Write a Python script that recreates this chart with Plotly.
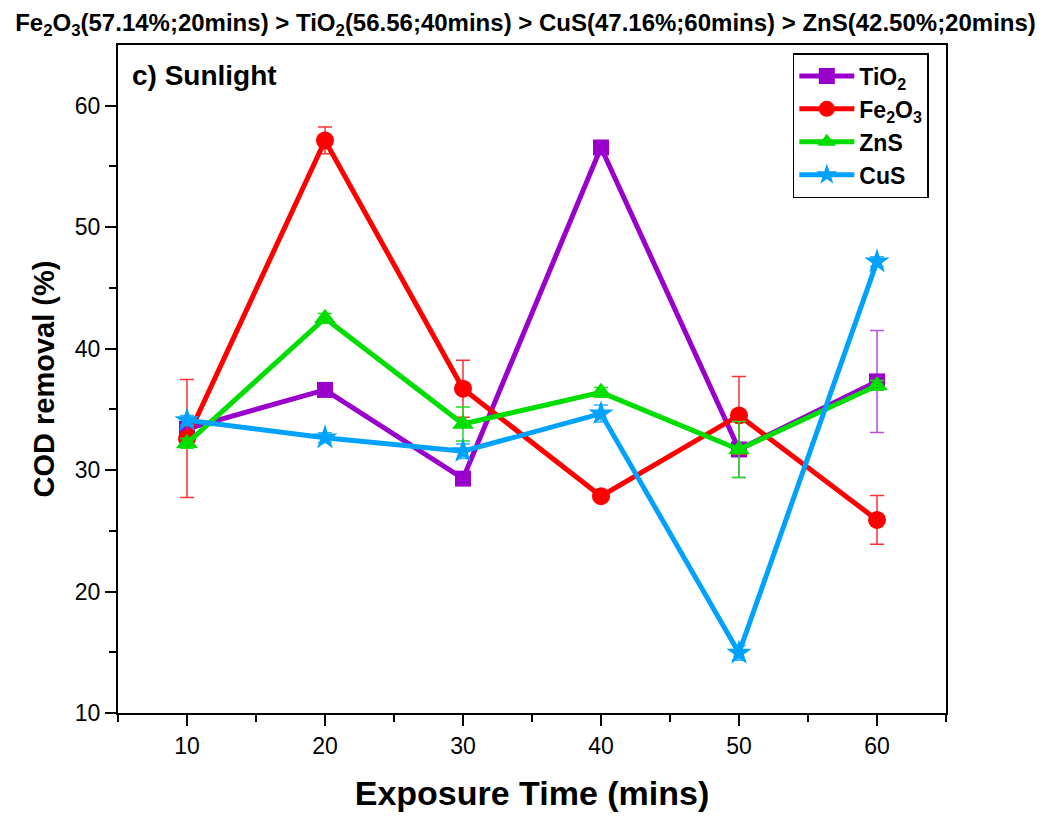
import plotly.graph_objects as go

# Exposure times (minutes)
times = [10, 20, 30, 40, 50, 60]

# COD removal (%) per catalyst under sunlight
tio2 = [33.4, 36.6, 29.3, 56.56, 31.7, 37.3]
fe2o3 = [32.6, 57.14, 36.7, 27.85, 34.5, 25.9]
zns = [32.2, 42.50, 33.8, 36.4, 31.7, 36.97]
cus = [34.1, 32.67, 31.55, 34.65, 14.95, 47.16]

# Standard deviations
tio2_err = [0.4, 0.4, 0.4, 0.4, 2.3, 4.2]
fe2o3_err = [4.85, 1.1, 2.35, 0.4, 3.2, 2.0]
zns_err = [0.4, 0.4, 1.4, 0.4, 2.3, 0.4]
cus_err = [0.4, 0.4, 0.6, 0.7, 0.6, 0.4]

series = [
    ("TiO<sub>2</sub>", tio2, tio2_err, "#9900CC", "#B84FD8", "square", 16),
    ("Fe<sub>2</sub>O<sub>3</sub>", fe2o3, fe2o3_err, "#FF0000", "#FF3030", "circle", 18),
    ("ZnS", zns, zns_err, "#00DD00", "#22DD22", "triangle-up", 19),
    ("CuS", cus, cus_err, "#00A2FF", "#30B0FF", "star", 19),
]

fig = go.Figure()
for name, vals, errs, color, ecolor, symbol, msize in series:
    fig.add_trace(go.Scatter(
        x=times, y=vals, name=name, mode="lines+markers",
        line=dict(color=color, width=5),
        marker=dict(symbol=symbol, size=msize, color=color),
        error_y=dict(type="data", array=errs, visible=True,
                     color=ecolor, thickness=1.5, width=7),
    ))

sans = "Liberation Sans, Arial, sans-serif"

fig.update_layout(
    width=1051, height=816,
    margin=dict(l=118, r=105, t=45, b=103),
    paper_bgcolor="white", plot_bgcolor="white",
    title=dict(
        text="<b>Fe<sub>2</sub>O<sub>3</sub>(57.14%;20mins) &gt; TiO<sub>2</sub>(56.56;40mins) &gt; "
             "CuS(47.16%;60mins) &gt; ZnS(42.50%;20mins)</b>",
        x=0.5, xref="container", xanchor="center",
        y=0.972, yref="container", yanchor="middle",
        font=dict(family=sans, size=24, color="black"),
    ),
    legend=dict(
        x=0.815, y=0.988, xanchor="left", yanchor="top",
        bordercolor="black", borderwidth=1.5, bgcolor="white",
        font=dict(family=sans, size=23, color="black", weight="bold"),
        itemwidth=55,
    ),
    showlegend=True,
)

fig.update_xaxes(
    range=[5, 65], tickvals=[10, 20, 30, 40, 50, 60], automargin=False,
    showline=True, linecolor="black", linewidth=2, mirror=True,
    ticks="outside", ticklen=11, tickwidth=2, tickcolor="black",
    minor=dict(tickvals=[5, 15, 25, 35, 45, 55, 65], ticks="outside",
               ticklen=7, tickwidth=2, tickcolor="black"),
    showgrid=False, zeroline=False,
    tickfont=dict(family=sans, size=23, color="black"),
    title=dict(text="<b>Exposure Time (mins)</b>", standoff=24,
               font=dict(family=sans, size=34, color="black")),
)

fig.update_yaxes(
    range=[10, 65], tickvals=[10, 20, 30, 40, 50, 60], automargin=False,
    showline=True, linecolor="black", linewidth=2, mirror=True,
    ticks="outside", ticklen=11, tickwidth=2, tickcolor="black",
    minor=dict(tickvals=[15, 25, 35, 45, 55], ticks="outside",
               ticklen=7, tickwidth=2, tickcolor="black"),
    showgrid=False, zeroline=False,
    tickfont=dict(family=sans, size=23, color="black"),
    title=dict(text="<b>COD removal (%)</b>", standoff=12,
               font=dict(family=sans, size=29, color="black")),
)

fig.add_annotation(
    text="<b>c) Sunlight</b>", xref="paper", yref="paper",
    x=0.014, y=0.955, xanchor="left", yanchor="middle", showarrow=False,
    font=dict(family=sans, size=28, color="black"),
)

fig.write_html("out.html")
